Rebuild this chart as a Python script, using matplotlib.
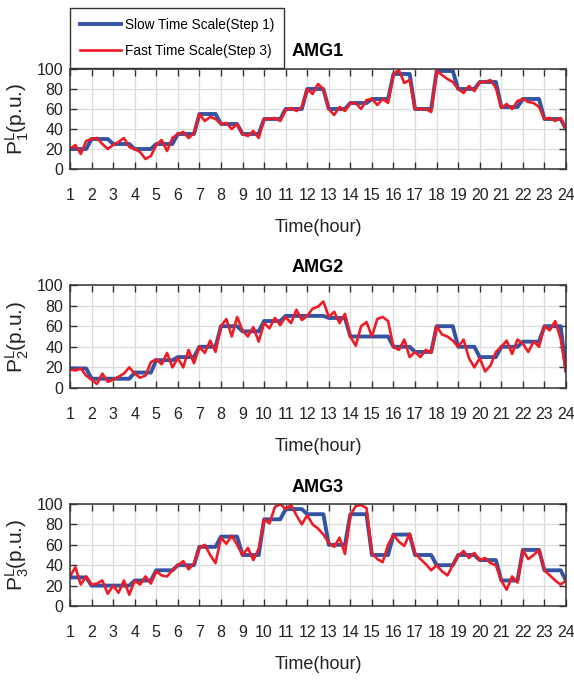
import numpy as np
import matplotlib
matplotlib.use("Agg")
import matplotlib.pyplot as plt

# hours on the x axis, fast scale sampled every 15 minutes
hours = np.arange(1, 25)
t_fast = np.arange(1, 24.001, 0.25)

# slow time scale (step 1): one value per hour
slow_amg1 = [20, 30, 25, 20, 25, 35, 55, 45, 35, 50, 60, 80,
             60, 66, 70, 95, 60, 98, 80, 87, 62, 70, 50, 40]
slow_amg2 = [19, 9, 9, 15, 27, 30, 40, 60, 55, 65, 70, 70,
             68, 50, 50, 40, 35, 60, 40, 30, 40, 45, 60, 17]
slow_amg3 = [28, 20, 20, 25, 35, 40, 58, 68, 50, 85, 95, 90,
             60, 90, 50, 70, 50, 40, 50, 45, 25, 55, 35, 25]

# fast time scale (step 3): values every quarter hour from 1 to 24
fast_amg1 = [20, 24, 15, 28, 30, 31, 25, 20, 24, 27, 31, 22,
             20, 17, 10, 13, 24, 29, 18, 31, 35, 37, 31, 36,
             55, 48, 52, 50, 45, 46, 40, 45, 35, 33, 38, 31,
             50, 50, 51, 48, 59, 61, 58, 62, 80, 75, 85, 80,
             60, 54, 62, 58, 66, 66, 60, 69, 70, 64, 70, 66,
             95, 99, 86, 89, 60, 60, 60, 57, 98, 94, 90, 87,
             80, 76, 83, 78, 87, 87, 89, 81, 61, 65, 60, 68,
             70, 67, 66, 62, 50, 51, 48, 51, 40]
fast_amg2 = [18, 17, 19, 12, 8, 4, 14, 6, 8, 11, 14, 20,
             14, 10, 12, 25, 28, 23, 34, 20, 29, 20, 37, 24,
             40, 34, 46, 35, 60, 67, 50, 69, 56, 50, 59, 45,
             63, 58, 68, 61, 69, 63, 76, 66, 70, 77, 79, 84,
             69, 74, 63, 72, 50, 41, 60, 64, 50, 67, 69, 65,
             40, 37, 47, 30, 35, 30, 37, 34, 60, 52, 50, 46,
             40, 47, 29, 20, 29, 16, 22, 35, 40, 46, 33, 47,
             43, 35, 45, 40, 60, 56, 65, 48, 16]
fast_amg3 = [29, 38, 21, 29, 21, 22, 25, 12, 20, 13, 25, 11,
             25, 21, 29, 22, 34, 30, 29, 35, 40, 44, 36, 42,
             57, 60, 50, 42, 67, 61, 69, 60, 50, 57, 45, 56,
             85, 81, 97, 100, 95, 99, 89, 80, 89, 80, 76, 70,
             62, 58, 67, 51, 89, 98, 99, 96, 52, 46, 43, 60,
             70, 63, 59, 71, 52, 46, 41, 35, 40, 34, 30, 40,
             49, 54, 47, 52, 45, 47, 42, 40, 25, 16, 29, 23,
             55, 46, 50, 55, 35, 30, 25, 21, 25]

titles = ["AMG1", "AMG2", "AMG3"]
ylabels = [r"P$^{\mathrm{L}}_{1}$(p.u.)", r"P$^{\mathrm{L}}_{2}$(p.u.)",
           r"P$^{\mathrm{L}}_{3}$(p.u.)"]

plt.rcParams["font.family"] = ["Liberation Sans", "DejaVu Sans"]
plt.rcParams["mathtext.fontset"] = "custom"
plt.rcParams["mathtext.rm"] = "Liberation Sans"
plt.rcParams["mathtext.it"] = "Liberation Sans:italic"

blue = "#3453a4"
red = "#ee1c25"
axcol = "#333333"
txtcol = "#222222"

fig = plt.figure(figsize=(5.74, 6.81), dpi=100)
W, H = 574.0, 681.0
boxes = [(69, 169), (285, 388), (504, 606)]
slows = [slow_amg1, slow_amg2, slow_amg3]
fasts = [fast_amg1, fast_amg2, fast_amg3]

for i in range(3):
    top, bot = boxes[i]
    ax = fig.add_axes([70 / W, 1 - bot / H, 496 / W, (bot - top) / H])
    s = np.asarray(slows[i], dtype=float)
    slow_line = np.append(np.repeat(s[:-1], 4), s[-1])
    l1, = ax.plot(t_fast, slow_line, color=blue, lw=2.8)
    l2, = ax.plot(t_fast, fasts[i], color=red, lw=1.9)
    ax.set_xlim(1, 24)
    ax.set_ylim(0, 100)
    ax.set_xticks(hours)
    ax.set_yticks(np.arange(0, 101, 20))
    ax.grid(True, color="#dcdcdc", lw=0.9)
    ax.set_axisbelow(True)
    ax.tick_params(direction="in", length=5, width=1, color=axcol,
                   top=True, right=True, labelsize=11.5, labelcolor=txtcol)
    ax.tick_params(axis="x", pad=14)
    ax.tick_params(axis="y", pad=5)
    for sp in ax.spines.values():
        sp.set_color(axcol)
        sp.set_linewidth(1.1)
    ax.set_title(titles[i], fontsize=13, fontweight="bold", pad=9)
    ax.set_xlabel("Time(hour)", fontsize=13, labelpad=11, color=txtcol)
    ax.set_ylabel(ylabels[i], fontsize=15, color=txtcol)
    ax.yaxis.set_label_coords(-0.078, 0.5)

fig.legend([l1, l2], ["Slow Time Scale(Step 1)", "Fast Time Scale(Step 3)"],
           loc="lower left", bbox_to_anchor=(70 / W, 1 - 68 / H),
           borderaxespad=0, fontsize=9.8, handlelength=3.0, labelspacing=0.9,
           fancybox=False, framealpha=1, edgecolor="#333333",
           borderpad=0.72, handletextpad=0.3)

fig.savefig("out.png", dpi=100)
